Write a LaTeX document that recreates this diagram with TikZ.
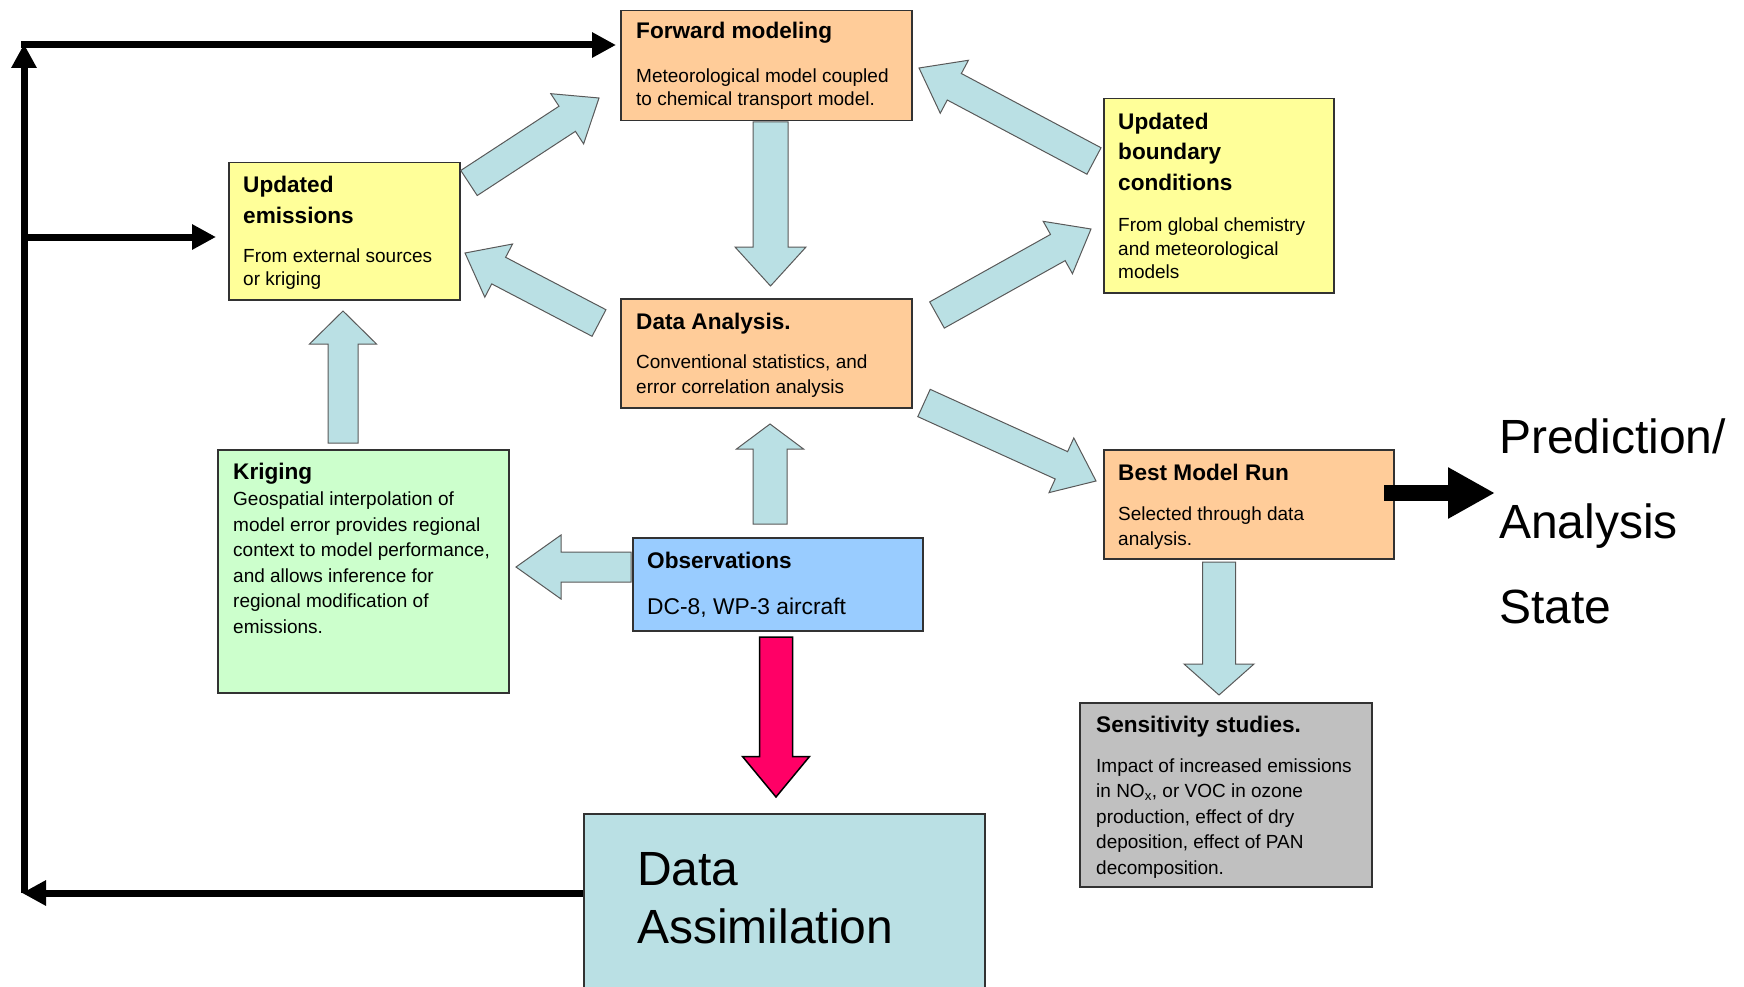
\documentclass[tikz,border=0pt]{standalone}
\usepackage{fontspec}
\setmainfont{Liberation Sans}
\usetikzlibrary{calc,arrows.meta}

\definecolor{peach}{RGB}{255,204,153}
\definecolor{lemon}{RGB}{255,255,153}
\definecolor{mint}{RGB}{204,255,204}
\definecolor{skyblue}{RGB}{153,204,255}
\definecolor{silvergray}{RGB}{192,192,192}
\definecolor{paleteal}{RGB}{186,224,228}
\definecolor{hotpink}{RGB}{255,0,102}
\definecolor{edge}{RGB}{50,50,50}

% block arrow: [style]{tail}{tip}{shaft half width}{head half width}{head length}
\newcommand\blockarr[6][]{%
  \coordinate (bam) at ($(#3)!#6!(#2)$);
  \draw[blockarrow,#1] ($(#2)!#4!90:(#3)$) -- ($(bam)!#4!90:(#3)$)
    -- ($(bam)!#5!90:(#3)$) -- (#3) -- ($(bam)!#5!-90:(#3)$)
    -- ($(bam)!#4!-90:(#3)$) -- ($(#2)!#4!-90:(#3)$) -- cycle;}

\tikzset{
  box/.style={draw=edge, line width=1.5pt, rectangle, inner sep=0pt, anchor=north west},
  ttl/.style={anchor=base west, inner sep=0pt, font=\bfseries\fontsize{22.6}{26}\selectfont},
  bdy/.style={anchor=base west, inner sep=0pt, font=\fontsize{19}{23}\selectfont},
  big/.style={anchor=base west, inner sep=0pt, font=\fontsize{48}{58}\selectfont},
  blockarrow/.style={fill=paleteal, draw=black!65, line width=1pt, line join=miter},
  loopline/.style={line width=7pt, line cap=butt, -{Triangle[length=24pt,width=24pt]}},
}

\begin{document}
\begin{tikzpicture}[x=1pt,y=-1pt]
\useasboundingbox (0,0) rectangle (1744,987);
\clip (0,0) rectangle (1744,987);

% ---------- boxes ----------
\node[box, fill=peach, minimum width=291pt, minimum height=110pt] (fwd) at (620,10) {};
\node[ttl] (fwd-t) at (636,39) {Forward modeling};
\node[bdy] (fwd-1) at (636,82.5) {Meteorological model coupled};
\node[bdy] (fwd-2) at (636,106) {to chemical transport model.};

\node[box, fill=lemon, minimum width=231pt, minimum height=137pt] (ue) at (228,162) {};
\node[ttl] (ue-t1) at (243,193) {Updated};
\node[ttl] (ue-t2) at (243,223) {emissions};
\node[bdy] (ue-1) at (243,262) {From external sources};
\node[bdy] (ue-2) at (243,285.5) {or kriging};

\node[box, fill=lemon, minimum width=230pt, minimum height=194pt] (ub) at (1103,98) {};
\node[ttl] (ub-t1) at (1118,129.5) {Updated};
\node[ttl] (ub-t2) at (1118,160) {boundary};
\node[ttl] (ub-t3) at (1118,190.5) {conditions};
\node[bdy] (ub-1) at (1118,231) {From global chemistry};
\node[bdy] (ub-2) at (1118,255.5) {and meteorological};
\node[bdy] (ub-3) at (1118,278) {models};

\node[box, fill=peach, minimum width=291pt, minimum height=109pt] (da) at (620,298) {};
\node[ttl] (da-t) at (636,329) {Data Analysis.};
\node[bdy] (da-1) at (636,368) {Conventional statistics, and};
\node[bdy] (da-2) at (636,393.5) {error correlation analysis};

\node[box, fill=mint, minimum width=291pt, minimum height=243pt] (kr) at (217,449) {};
\node[ttl] (kr-t) at (233,479) {Kriging};
\node[bdy] (kr-1) at (233,505.5) {Geospatial interpolation of};
\node[bdy] (kr-2) at (233,531) {model error provides regional};
\node[bdy] (kr-3) at (233,556.5) {context to model performance,};
\node[bdy] (kr-4) at (233,582) {and allows inference for};
\node[bdy] (kr-5) at (233,607.5) {regional modification of};
\node[bdy] (kr-6) at (233,633) {emissions.};

\node[box, fill=skyblue, minimum width=290pt, minimum height=93pt] (obs) at (632,537) {};
\node[ttl] (obs-t) at (647,568.5) {Observations};
\node[bdy, font=\fontsize{22.8}{27}\selectfont] (obs-1) at (647,614.5) {DC-8, WP-3 aircraft};

\node[box, fill=peach, minimum width=290pt, minimum height=109pt] (bmr) at (1103,449) {};
\node[ttl] (bmr-t) at (1118,480) {Best Model Run};
\node[bdy] (bmr-1) at (1118,520.5) {Selected through data};
\node[bdy] (bmr-2) at (1118,545) {analysis.};

\node[box, fill=silvergray, minimum width=292pt, minimum height=184pt] (sen) at (1079,702) {};
\node[ttl] (sen-t) at (1096,732.5) {Sensitivity studies.};
\node[bdy] (sen-1) at (1096,772) {Impact of increased emissions};
\node[bdy] (sen-2) at (1096,797.5) {in NO\textsubscript{x}, or VOC in ozone};
\node[bdy] (sen-3) at (1096,823) {production, effect of dry};
\node[bdy] (sen-4) at (1096,848.5) {deposition, effect of PAN};
\node[bdy] (sen-5) at (1096,874) {decomposition.};

\node[box, fill=paleteal, minimum width=401pt, minimum height=190pt] (dassim) at (583,813) {};
\node[big] (dassim-1) at (637,885) {Data};
\node[big] (dassim-2) at (637,943) {Assimilation};

\node[big] (pred-1) at (1499,453) {Prediction/};
\node[big] (pred-2) at (1499,538) {Analysis};
\node[big] (pred-3) at (1499,623) {State};

% ---------- block arrows ----------
\coordinate (a1s) at (770.5,122);  \coordinate (a1e) at (770.5,286);
\coordinate (a2s) at (770,524);    \coordinate (a2e) at (770,424);
\coordinate (a3s) at (631,567);    \coordinate (a3e) at (516,567);
\coordinate (a4s) at (343,443);    \coordinate (a4e) at (343,311);
\coordinate (a5s) at (469,183);    \coordinate (a5e) at (599,98);
\coordinate (a6s) at (599,323);    \coordinate (a6e) at (465,253);
\coordinate (a7s) at (1094,161);   \coordinate (a7e) at (919,68);
\coordinate (a8s) at (937,315);    \coordinate (a8e) at (1091,229);
\coordinate (a9s) at (924,403);    \coordinate (a9e) at (1096,481);
\coordinate (a10s) at (1219,562);  \coordinate (a10e) at (1219,695);

\blockarr{a1s}{a1e}{17.5pt}{35.5pt}{39pt}
\blockarr{a2s}{a2e}{17pt}{33.5pt}{25pt}
\blockarr{a3s}{a3e}{15pt}{32pt}{45pt}
\blockarr{a4s}{a4e}{15pt}{33.5pt}{33pt}
\blockarr{a5s}{a5e}{15pt}{30pt}{38pt}
\blockarr{a6s}{a6e}{15pt}{30pt}{38pt}
\blockarr{a7s}{a7e}{15pt}{30pt}{40pt}
\blockarr{a8s}{a8e}{15pt}{30pt}{38pt}
\blockarr{a9s}{a9e}{15pt}{30pt}{38pt}
\blockarr{a10s}{a10e}{16.5pt}{35pt}{31pt}

% red arrow into data assimilation
\coordinate (rs) at (776,637);  \coordinate (re) at (776,797);
\blockarr[fill=hotpink, draw=black, line width=1.5pt]{rs}{re}{16.5pt}{33.5pt}{40.5pt}

% ---------- feedback loop ----------
\coordinate (lp-b) at (583,893);
\coordinate (lp-bl) at (22,893);
\coordinate (lp-v0) at (24,893);
\coordinate (lp-vt) at (24,44);
\coordinate (lp-t) at (21,45);
\coordinate (lp-te) at (616,45);
\coordinate (lp-m) at (24,237);
\coordinate (lp-me) at (216,237);
\draw[loopline] (lp-b) -- (lp-bl);
\draw[loopline] (lp-v0) -- (lp-vt);
\draw[loopline] (lp-t) -- (lp-te);
\draw[loopline] (lp-m) -- (lp-me);

% ---------- output arrow ----------
\coordinate (out-s) at (1384,493);
\coordinate (out-e) at (1495,493);
\draw[line width=16pt, -{Triangle[length=47pt,width=48pt]}] (out-s) -- (out-e);
\end{tikzpicture}
\end{document}
